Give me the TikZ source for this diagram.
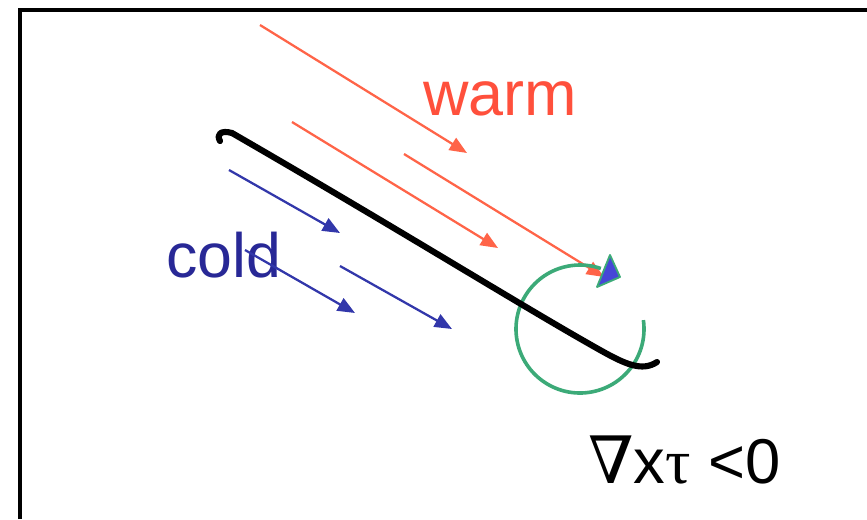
\documentclass[tikz,border=0pt]{standalone}
\usepackage{fontspec}
\setmainfont{Liberation Sans}
\newfontfamily\symfont{Liberation Serif}
\newfontfamily\nablafont{DejaVu Serif}
\usetikzlibrary{arrows.meta}
\definecolor{warmtext}{RGB}{255,80,60}
\definecolor{redline}{RGB}{255,100,72}
\definecolor{coldtext}{RGB}{40,40,150}
\definecolor{blueline}{RGB}{50,55,170}
\definecolor{curlgreen}{RGB}{60,170,120}
\definecolor{tipblue}{RGB}{70,70,215}
\tikzset{
  warmarrow/.style={draw=redline, line width=1.7pt, -{Triangle[length=13pt,width=10.5pt]}},
  coldarrow/.style={draw=blueline, line width=1.7pt, -{Triangle[length=13pt,width=10.5pt]}},
  lbl/.style={inner sep=0pt, anchor=base west},
}
\begin{document}
\begin{tikzpicture}[x=0.75pt,y=0.75pt]
\useasboundingbox (0,0) rectangle (867,-519);
% frame
\draw[line width=2.3pt] (20,-519) -- (20,-10) -- (867,-10);
% texts
\node[lbl, text=warmtext, font=\fontsize{47.2}{50}\selectfont] (warm) at (423,-115) {warm};
\node[lbl, text=coldtext, font=\fontsize{47}{50}\selectfont] (cold) at (166,-277) {cold};
\node[lbl, font=\fontsize{47.5}{50}\selectfont] (curl) at (588,-483) {{\nablafont\fontsize{49}{50}\selectfont ∇}x{\symfont τ} <0};
% arrow endpoints
\coordinate (r1s) at (260,-25);  \coordinate (r1e) at (467,-153);
\coordinate (r2s) at (292,-122); \coordinate (r2e) at (498,-248);
\coordinate (r3s) at (404,-154); \coordinate (r3e) at (604,-277);
\coordinate (b1s) at (229,-170); \coordinate (b1e) at (340,-233);
\coordinate (b2s) at (245,-250); \coordinate (b2e) at (355,-313);
\coordinate (b3s) at (340,-266); \coordinate (b3e) at (452,-329);
% warm arrows
\draw[warmarrow] (r1s) -- (r1e);
\draw[warmarrow] (r2s) -- (r2e);
\draw[warmarrow] (r3s) -- (r3e);
% cold arrows
\draw[coldarrow] (b1s) -- (b1e);
\draw[coldarrow] (b2s) -- (b2e);
\draw[coldarrow] (b3s) -- (b3e);
% curl circle
\coordinate (cc) at (580,-329);
\draw[curlgreen, line width=2.7pt] (cc) ++(8:64) arc[start angle=8, end angle=-289, radius=64];
% front line
\coordinate (f0) at (220,-141);
\coordinate (f1) at (232,-133);
\coordinate (f2) at (600,-350);
\coordinate (f3) at (657,-362);
\draw[line width=4.6pt, line cap=round, line join=round]
  (f0) .. controls (216,-134) and (221,-130) .. (f1)
  .. controls (400,-230) and (520,-305) .. (f2)
  .. controls (625,-364) and (642,-372) .. (f3);
% arrow head of curl
\coordinate (t1) at (610,-255);
\coordinate (t2) at (620,-277);
\coordinate (t3) at (597,-287);
\draw[curlgreen, fill=tipblue, line width=1.4pt, line join=round] (t1) -- (t2) -- (t3) -- cycle;
\end{tikzpicture}
\end{document}
